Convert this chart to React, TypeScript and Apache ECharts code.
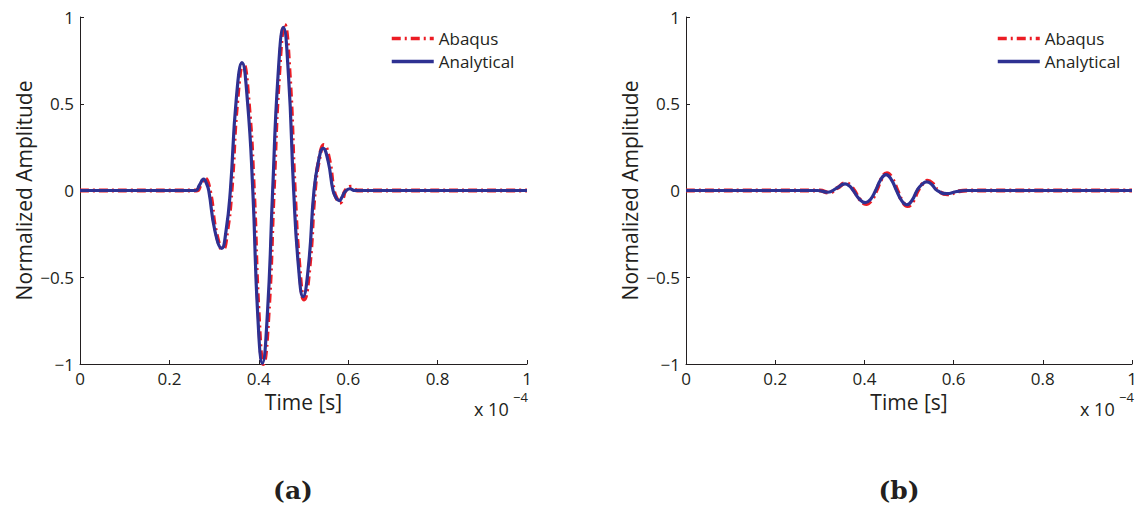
import React, { useEffect, useRef } from "react";
import * as echarts from "echarts";

// Time axis values are in units of 1e-4 s
const xTicks = [0, 0.2, 0.4, 0.6, 0.8, 1];
const yTicks = [-1, -0.5, 0, 0.5, 1];

// Panel (a)
const timeAbaqusA = [0, 0.26, 0.2695, 0.279, 0.2905, 0.3045, 0.3195, 0.329, 0.339, 0.352, 0.3648, 0.377, 0.389, 0.3995, 0.41, 0.4218, 0.4335, 0.4455, 0.4575, 0.469, 0.4805, 0.491, 0.5013, 0.5135, 0.5255, 0.5355, 0.5455, 0.557, 0.568, 0.575, 0.5815, 0.588, 0.594, 0.6074, 0.62, 1];
const ampAbaqusA = [0, 0, 0.03, 0.07, 0, -0.24, -0.34, -0.24, 0, 0.52, 0.735, 0.52, 0, -0.7, -1.0, -0.71, 0, 0.67, 0.955, 0.67, 0, -0.44, -0.628, -0.44, 0, 0.185, 0.262, 0.185, 0, -0.05, -0.07, -0.045, 0, 0.022, 0, 0];
const timeAnalyticalA = [0, 0.258, 0.267, 0.2766, 0.283, 0.288, 0.302, 0.3169, 0.3266, 0.3364, 0.3494, 0.3624, 0.3745, 0.3866, 0.3973, 0.408, 0.4195, 0.431, 0.443, 0.455, 0.4665, 0.478, 0.4885, 0.499, 0.5113, 0.5235, 0.5336, 0.5438, 0.555, 0.566, 0.5728, 0.5797, 0.5858, 0.592, 0.6036, 0.615, 1];
const ampAnalyticalA = [0, 0, 0.03, 0.065, 0.04, 0, -0.235, -0.333, -0.235, 0, 0.52, 0.737, 0.52, 0, -0.7, -0.996, -0.7, 0, 0.66, 0.94, 0.66, 0, -0.43, -0.612, -0.43, 0, 0.17, 0.243, 0.17, 0, -0.042, -0.059, -0.04, -0.01, 0.01, 0, 0];

// Panel (b)
const timeAbaqusB = [0, 0.3, 0.32, 0.339, 0.3585, 0.368, 0.377, 0.391, 0.404, 0.416, 0.427, 0.439, 0.4505, 0.462, 0.474, 0.4855, 0.4968, 0.5085, 0.52, 0.531, 0.5416, 0.553, 0.565, 0.5865, 0.609, 0.63, 1];
const ampAbaqusB = [0, 0, -0.012, 0.014, 0.042, 0.03, 0, -0.055, -0.078, -0.055, 0, 0.07, 0.1, 0.07, 0, -0.063, -0.09, -0.063, 0, 0.04, 0.056, 0.04, 0, -0.022, -0.006, 0, 0];
const timeAnalyticalB = [0, 0.295, 0.318, 0.337, 0.3565, 0.366, 0.375, 0.389, 0.402, 0.414, 0.425, 0.437, 0.4485, 0.46, 0.472, 0.4835, 0.4948, 0.5065, 0.518, 0.529, 0.5396, 0.551, 0.563, 0.5845, 0.607, 0.628, 1];
const ampAnalyticalB = [0, 0, -0.01, 0.012, 0.038, 0.027, 0, -0.05, -0.07, -0.05, 0, 0.064, 0.092, 0.064, 0, -0.058, -0.082, -0.058, 0, 0.035, 0.05, 0.035, 0, -0.018, -0.006, 0, 0];

const seriesNames = ["Abaqus", "Analytical"];
const panelLabels = ["(a)", "(b)"];
const xName = "Time [s]";
const yName = "Normalized Amplitude";

const RED = "#ec1c24";
const BLUE = "#2e3192";
const INK = "#231f20";
const FONT = "'Open Sans', 'Liberation Sans', sans-serif";

const zip = (xs: number[], ys: number[]) => xs.map((x, i) => [x, ys[i]]);

export default function App() {
  const ref = useRef<HTMLDivElement>(null);
  useEffect(() => {
    if (!ref.current) return;
    const chart = echarts.init(ref.current, undefined, { renderer: "svg" });
    const grids = [
      { left: 80, top: 17, width: 447, height: 347 },
      { left: 686, top: 17, width: 446, height: 347 },
    ];
    const fmtX = (v: number) => String(+v.toFixed(1));
    const fmtY = (v: number) => (v < 0 ? "\u2212" + String(Math.abs(v)) : String(v));
    const xAxis = grids.map((_, i) => ({
      type: "value",
      gridIndex: i,
      min: xTicks[0],
      max: xTicks[xTicks.length - 1],
      interval: 0.2,
      name: xName,
      nameLocation: "middle",
      nameGap: 26,
      nameTextStyle: { fontFamily: FONT, fontSize: 21, color: INK },
      axisLine: { show: true, onZero: false, lineStyle: { color: INK, width: 1 } },
      axisTick: { show: true, inside: true, length: 4, lineStyle: { color: INK } },
      axisLabel: { formatter: fmtX, fontFamily: FONT, fontSize: 17, color: INK, margin: 6 },
      splitLine: { show: false },
    }));
    const yAxis = grids.map((_, i) => ({
      type: "value",
      gridIndex: i,
      min: yTicks[0],
      max: yTicks[yTicks.length - 1],
      interval: 0.5,
      name: yName,
      nameLocation: "middle",
      nameGap: 46,
      nameTextStyle: { fontFamily: FONT, fontSize: 21, color: INK },
      axisLine: { show: true, onZero: false, lineStyle: { color: INK, width: 1 } },
      axisTick: { show: true, inside: true, length: 4, lineStyle: { color: INK } },
      axisLabel: { formatter: fmtY, fontFamily: FONT, fontSize: 17, color: INK, margin: 6 },
      splitLine: { show: false },
    }));
    const dash = [9, 4, 2, 4];
    const mk = (name: string, idx: number, data: number[][], color: string, width: number, type: any) => ({
      name,
      type: "line",
      xAxisIndex: idx,
      yAxisIndex: idx,
      data,
      smooth: 0.5,
      showSymbol: false,
      symbol: "none",
      clip: true,
      lineStyle: { color, width, type, cap: "butt" },
      itemStyle: { color },
    });
    const series = [
      mk(seriesNames[0], 0, zip(timeAbaqusA, ampAbaqusA), RED, 4, dash),
      mk(seriesNames[1], 0, zip(timeAnalyticalA, ampAnalyticalA), BLUE, 3.2, "solid"),
      mk(seriesNames[0], 1, zip(timeAbaqusB, ampAbaqusB), RED, 4, dash),
      mk(seriesNames[1], 1, zip(timeAnalyticalB, ampAnalyticalB), BLUE, 3.2, "solid"),
    ];
    const legendBase = {
      orient: "vertical",
      top: 25,
      itemWidth: 42,
      itemHeight: 14,
      itemGap: 6,
      selectedMode: false,
      data: seriesNames,
      itemStyle: { opacity: 0 },
      lineStyle: { width: 3.5 },
      textStyle: { fontFamily: FONT, fontSize: 17, color: INK, padding: [0, 0, 0, 0] },
    };
    const expo = (left: number) => [
      { type: "text", left, top: 400, style: { text: "x 10", font: `18px ${FONT}`, fill: INK } },
      { type: "text", left: left + 39, top: 390, style: { text: "\u22124", font: `13px ${FONT}`, fill: INK } },
    ];
    const labelFont = `bold 25px 'DejaVu Serif', serif`;
    const labels = [
      { type: "text", x: 293, y: 490, style: { text: panelLabels[0], font: labelFont, fill: INK, align: "center", verticalAlign: "middle" } },
      { type: "text", x: 899, y: 490, style: { text: panelLabels[1], font: labelFont, fill: INK, align: "center", verticalAlign: "middle" } },
    ];
    chart.setOption({
      animation: false,
      backgroundColor: "#ffffff",
      grid: grids,
      xAxis,
      yAxis,
      legend: [
        { ...legendBase, left: 385 },
        { ...legendBase, left: 991 },
      ],
      series,
      graphic: [...expo(474), ...expo(1080), ...labels],
    });
    return () => chart.dispose();
  }, []);
  return <div ref={ref} style={{ position: "fixed", left: 0, top: 0, width: 1142, height: 511, background: "#fff" }} />;
}
